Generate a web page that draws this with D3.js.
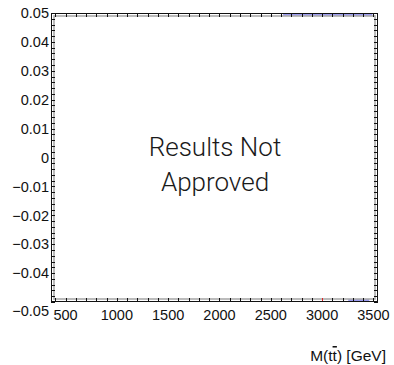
<!DOCTYPE html>
<html>
<head>
<meta charset="utf-8">
<script src="https://cdn.jsdelivr.net/npm/d3@7"></script>
<style>
  body { margin: 0; background: #fff; }
  text { font-family: "Liberation Sans", Helvetica, Arial, sans-serif; fill: #111; }
</style>
</head>
<body>
<script>
// axis data
var xDomain = [358, 3545];
var yDomain = [-0.05, 0.05];
var xTickValues = [500, 1000, 1500, 2000, 2500, 3000, 3500];
var yTickValues = [0.05, 0.04, 0.03, 0.02, 0.01, 0, -0.01, -0.02, -0.03, -0.04, -0.05];
var yTickLabels = ['0.05', '0.04', '0.03', '0.02', '0.01', '0', '\u22120.01', '\u22120.02', '\u22120.03', '\u22120.04', '\u22120.05'];
// out-of-range band pieces seen at the frame edges
var topBand = [2620, 3490];
var bottomBand = [3255, 3460];
var markedTick = 3000;

var W = 394, H = 365;
var fLeft = 51, fRight = 378, fTop = 13, fBottom = 302;

var svg = d3.select('body').append('svg').attr('width', W).attr('height', H);

var x = d3.scaleLinear().domain(xDomain).range([fLeft, fRight]);
var y = d3.scaleLinear().domain(yDomain).range([fBottom, fTop]);

var gap = 3;

// blue band bits between the frame lines
svg.append('rect')
    .attr('x', x(topBand[0])).attr('y', fTop)
    .attr('width', x(topBand[1]) - x(topBand[0])).attr('height', gap)
    .attr('fill', '#9c9cf0');
svg.append('rect')
    .attr('x', x(bottomBand[0])).attr('y', fBottom - gap)
    .attr('width', x(bottomBand[1]) - x(bottomBand[0])).attr('height', gap)
    .attr('fill', '#9c9cf0');

// inner grey line
svg.append('rect')
    .attr('x', fLeft + gap).attr('y', fTop + gap)
    .attr('width', fRight - fLeft - 2 * gap).attr('height', fBottom - fTop - 2 * gap)
    .attr('fill', 'none').attr('stroke', '#aaaaaa').attr('stroke-width', 1.6);

// minor ticks all round
var xMinor = d3.range(400, 3501, 100);
var yMinor = d3.range(-50, 51, 2).map(function(d){ return d / 1000; });

var ticks = svg.append('g').attr('stroke', '#111').attr('stroke-width', 1);
xMinor.forEach(function(v){
    var px = Math.round(x(v)) + 0.5;
    ticks.append('line').attr('x1', px).attr('x2', px).attr('y1', fTop).attr('y2', fTop + gap + 1);
    ticks.append('line').attr('x1', px).attr('x2', px).attr('y1', fBottom).attr('y2', fBottom - gap - 1)
        .attr('stroke', v === markedTick ? '#d22' : null);
});
yMinor.forEach(function(v){
    var py = Math.round(y(v)) + 0.5;
    ticks.append('line').attr('x1', fLeft).attr('x2', fLeft + gap + 1).attr('y1', py).attr('y2', py);
    ticks.append('line').attr('x1', fRight).attr('x2', fRight - gap - 1).attr('y1', py).attr('y2', py);
});

// outer black frame
svg.append('rect')
    .attr('x', fLeft + 0.5).attr('y', fTop + 0.5)
    .attr('width', fRight - fLeft - 1).attr('height', fBottom - fTop - 1)
    .attr('fill', 'none').attr('stroke', '#111').attr('stroke-width', 1);

// y labels
svg.append('g').selectAll('text')
    .data(yTickValues)
    .enter().append('text')
        .attr('x', fLeft - 2)
        .attr('y', function(d){ return y(d) + (d === -0.05 ? 9 : 0); })
        .attr('dy', '0.36em')
        .attr('text-anchor', 'end')
        .attr('font-size', 14.5)
        .text(function(d, i){ return yTickLabels[i]; });

// x labels
svg.append('g').selectAll('text')
    .data(xTickValues)
    .enter().append('text')
        .attr('x', function(d){ return x(d); })
        .attr('y', 320)
        .attr('text-anchor', 'middle')
        .attr('font-size', 14.5)
        .text(function(d){ return d; });

// axis title
var title = svg.append('text')
    .attr('x', 386).attr('y', 361)
    .attr('text-anchor', 'end')
    .attr('font-size', 15.5);
title.append('tspan').text('M(t');
title.append('tspan').attr('text-decoration', 'overline').text('t');
title.append('tspan').text(') [GeV]');

// watermark
svg.append('g').selectAll('text')
    .data(['Results Not', 'Approved'])
    .enter().append('text')
        .attr('x', 215)
        .attr('y', function(d, i){ return 156 + i * 35; })
        .attr('text-anchor', 'middle')
        .attr('font-size', 26)
        .style('font-family', 'Roboto, "Liberation Sans", sans-serif')
        .style('font-weight', 300)
        .style('fill', '#1a1a1a')
        .text(function(d){ return d; });
</script>
</body>
</html>
